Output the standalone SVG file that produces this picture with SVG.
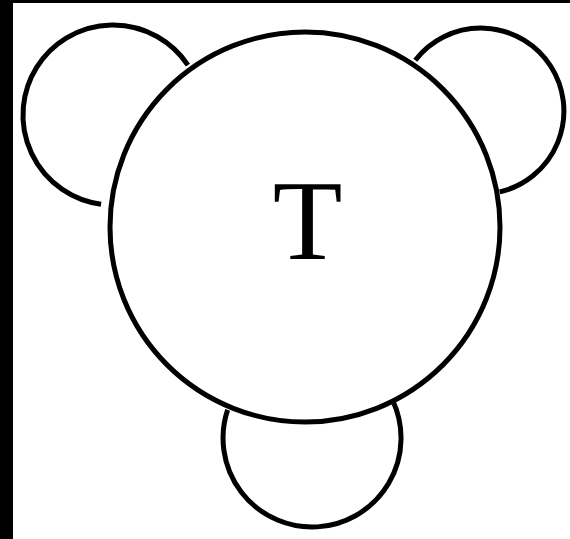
<svg xmlns="http://www.w3.org/2000/svg" width="570" height="539" viewBox="0 0 570 539">
<style>
.edge{fill:none;stroke:#000;stroke-width:5}
.node{fill:none;stroke:#000;stroke-width:5}
.label{font-family:"Liberation Serif","Times New Roman",serif;font-size:114px;fill:#000}
</style>
<rect x="0" y="0" width="570" height="539" fill="#fff"/>
<rect x="0" y="0" width="13" height="539" fill="#000"/>
<rect x="0" y="0" width="570" height="3" fill="#000"/>
<g id="connectors">
<path class="edge" d="M187.9,65.1 A90,90 0 1 0 101.1,204.2"/>
<path class="edge" d="M415.3,60.2 A83,83 0 1 1 499.7,191.9"/>
<path class="edge" d="M227.6,409.9 A89,89 0 1 0 392.6,400.2"/>
</g>
<g id="node-T">
<circle class="node" cx="305" cy="227" r="195"/>
<text class="label" x="307.5" y="259" text-anchor="middle">T</text>
</g>
</svg>
